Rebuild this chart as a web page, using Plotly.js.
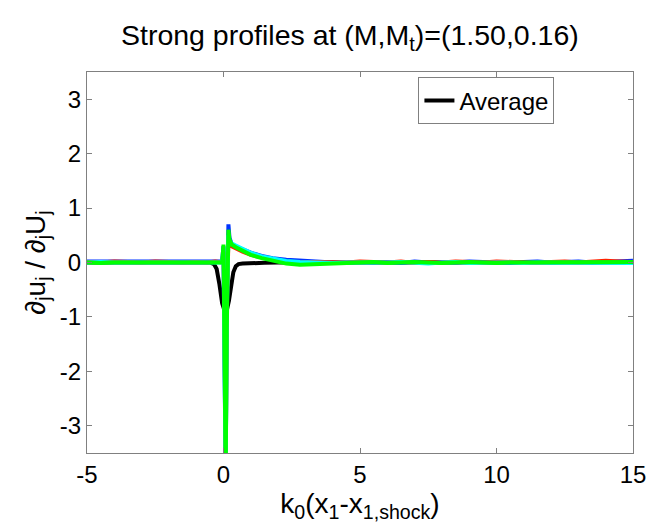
<!DOCTYPE html>
<html>
<head>
<meta charset="utf-8">
<script src="https://cdn.plot.ly/plotly-3.0.1.min.js"></script>
<style>html,body{margin:0;padding:0;background:#fff}#chart{width:654px;height:532px}</style>
</head>
<body>
<div id="chart"></div>
<script>
// shared x positions k0(x1 - x1,shock)
const xs = [-5,-4.5,-4,-3.5,-3,-2.5,-2,-1.5,-1,-0.6,-0.3,-0.15,-0.05,0,0.04,0.08,0.12,0.18,0.22,0.3,0.45,0.7,1,1.4,1.8,2.3,2.8,3.3,4,4.5,5,5.5,6,6.5,7,7.5,8,8.5,9,9.5,10,10.5,11,11.5,12,12.5,13,13.5,14,14.5,15];

// average profile
const avgX = [-5,-3,-1,-0.5,-0.35,-0.25,-0.15,-0.05,0.05,0.12,0.2,0.28,0.36,0.45,0.55,0.7,1,1.5,2,3,5,10,15];
const avgY = [0,0,0,0,-0.03,-0.12,-0.4,-0.75,-0.9,-0.88,-0.7,-0.4,-0.18,-0.07,-0.03,-0.02,-0.01,-0.005,0,0,0,0,0];

// individual strong profiles
const blueY  = [0.02,0.02,0.01,0.02,0.01,0.02,0.02,0.01,0.02,0.02,0.01,0.02,0.03,0.3,-2.0,-3.9,-1.0,0.7,0.45,0.34,0.29,0.24,0.18,0.12,0.08,0.05,0.03,0.02,0.0,-0.01,0.01,0.0,0.01,-0.01,0.02,0.0,0.01,0.0,0.02,0.01,0.0,-0.01,0.01,0.02,0.0,0.01,0.02,0.0,0.01,0.02,0.03];
const redY   = [0.01,0.0,0.02,0.01,0.0,0.02,0.01,0.0,0.01,0.0,0.02,0.0,0.0,0.2,-1.2,-3.9,-0.8,0.4,0.33,0.3,0.26,0.2,0.14,0.09,0.05,0.02,0.0,0.01,0.01,0.0,0.02,0.01,0.0,0.02,-0.01,0.01,0.0,0.02,0.01,0.0,0.02,0.01,0.0,-0.01,0.01,0.02,0.0,0.01,0.03,0.02,0.01];
const cyanY  = [0.0,0.01,0.0,0.0,0.01,0.0,0.0,0.01,0.0,0.0,0.0,0.01,0.0,0.25,-1.5,-3.9,-0.9,0.5,0.4,0.35,0.31,0.25,0.18,0.11,0.07,0.03,0.01,0.0,-0.01,0.0,0.0,-0.01,0.0,0.01,0.0,-0.02,0.0,0.01,-0.01,0.0,0.0,0.0,-0.01,0.0,0.0,-0.01,0.0,-0.01,-0.01,0.0,-0.01];
const greenY = [0.0,-0.01,0.0,0.0,-0.01,0.0,0.0,0.0,-0.01,0.0,-0.01,0.0,0.0,0.33,-2.5,-3.9,-1.2,0.6,0.42,0.33,0.28,0.21,0.14,0.08,0.03,-0.02,-0.04,-0.03,-0.01,0.0,0.0,0.01,-0.01,0.0,0.01,0.0,-0.01,0.0,0.01,0.0,-0.01,0.0,0.0,0.01,0.0,0.0,0.01,0.0,0.0,0.01,0.01];

const xTicks = [-5,0,5,10,15];
const yTicks = [-3,-2,-1,0,1,2,3];

const font = 'Liberation Sans, Arial, sans-serif';
const traces = [
  {x: avgX, y: avgY, mode: 'lines', name: 'Average', line: {color: '#000000', width: 4}, showlegend: true},
  {x: xs, y: blueY, mode: 'lines', line: {color: '#0033ff', width: 4}, showlegend: false},
  {x: xs, y: redY, mode: 'lines', line: {color: '#ff2200', width: 4}, showlegend: false},
  {x: xs, y: cyanY, mode: 'lines', line: {color: '#00ffff', width: 4}, showlegend: false},
  {x: xs, y: greenY, mode: 'lines', line: {color: '#00ff00', width: 4}, showlegend: false}
];

const axisCommon = {
  showline: true, linecolor: '#808080', linewidth: 1, mirror: 'ticks',
  ticks: 'inside', ticklen: 5, tickcolor: '#808080',
  showgrid: false, zeroline: false,
  tickfont: {family: font, size: 24, color: '#000'}
};

const layout = {
  width: 654, height: 532,
  margin: {l: 87, r: 21, t: 72, b: 79},
  paper_bgcolor: '#fff', plot_bgcolor: '#fff',
  title: {text: 'Strong profiles at (M,M<sub>t</sub>)=(1.50,0.16)', font: {family: font, size: 28.5, color: '#000'}, x: 0.535, xanchor: 'center', y: 0.935, yanchor: 'middle'},
  xaxis: Object.assign({}, axisCommon, {
    range: [-5, 15], tickvals: xTicks, ticktext: xTicks.map(String),
    title: {text: 'k<sub>0</sub>(x<sub>1</sub>-x<sub>1,shock</sub>)', font: {family: font, size: 28, color: '#000'}, standoff: 6}
  }),
  yaxis: Object.assign({}, axisCommon, {
    range: [-3.5, 3.5], tickvals: yTicks, ticktext: yTicks.map(String),
    title: {text: '∂<sub>j</sub>u<sub>j</sub> / ∂<sub>j</sub>U<sub>j</sub>', font: {family: font, size: 28, color: '#000'}, standoff: 6}
  }),
  legend: {x: 0.607, y: 0.986, xanchor: 'left', yanchor: 'top', bgcolor: '#fff', bordercolor: '#808080', borderwidth: 1,
    font: {family: font, size: 24, color: '#000'}, itemwidth: 30, tracegroupgap: 0}
};

Plotly.newPlot('chart', traces, layout, {displayModeBar: false, staticPlot: true});
</script>
</body>
</html>
